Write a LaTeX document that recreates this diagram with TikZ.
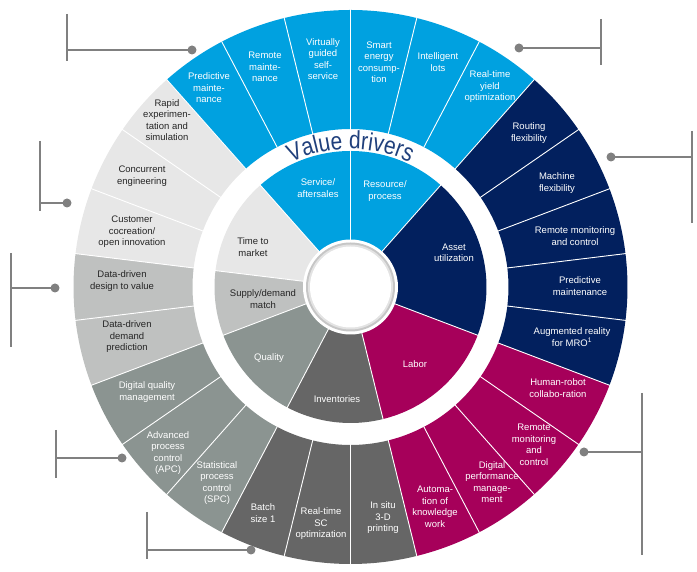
\documentclass[tikz,border=0pt]{standalone}
\usepackage{fontspec}
\setmainfont{Liberation Sans}
\newfontfamily\vdfont[FakeStretch=0.84]{Liberation Sans}
\newcommand\vdsize{\vdfont\fontsize{25}{27}\selectfont}
\usetikzlibrary{decorations.text}
\definecolor{vblue}{RGB}{0,161,224}
\definecolor{vnavy}{RGB}{2,32,94}
\definecolor{vmag}{RGB}{166,0,90}
\definecolor{vdgray}{RGB}{102,102,102}
\definecolor{vggreen}{RGB}{139,148,145}
\definecolor{vlgray}{RGB}{191,193,192}
\definecolor{vvlgray}{RGB}{231,231,231}
\definecolor{vdtext}{RGB}{32,64,124}
\definecolor{leadgray}{RGB}{128,128,128}
\begin{document}
\begin{tikzpicture}[x=1pt,y=1pt,
  lbl/.style={align=center, font=\fontsize{9.5}{11.5}\selectfont, text=white, inner sep=0pt},
  dlbl/.style={lbl, text=black!85},
  leader/.style={draw=leadgray, line width=1.5pt},
  dotnode/.style={circle, fill=leadgray, minimum size=9pt, inner sep=0pt},
  sep/.style={draw=white, line width=0.9pt}]
\useasboundingbox (0,0) rectangle (697,572);
\begin{scope}[shift={(350.5,285)}]
  % outer ring
  \foreach \c [count=\i from 0] in {vblue,vblue,vblue,vnavy,vnavy,vnavy,vnavy,vnavy,vmag,vmag,vmag,vmag,vdgray,vdgray,vdgray,vggreen,vggreen,vggreen,vlgray,vlgray,vvlgray,vvlgray,vvlgray,vblue,vblue,vblue}{
    \pgfmathsetmacro\aa{90-\i*360/26}
    \pgfmathsetmacro\ab{90-(\i+1)*360/26}
    \fill[\c] (\aa:277) arc[start angle=\aa, end angle=\ab, radius=277] -- (\ab:158) arc[start angle=\ab, end angle=\aa, radius=158] -- cycle;
  }
  \foreach \i in {0,...,25}{
    \pgfmathsetmacro\aa{90-\i*360/26}
    \draw[sep] (\aa:157.5) -- (\aa:277.5);
  }
  % inner pie
  \foreach \s/\e/\c in {-3/0/vblue,0/3/vblue,3/6/vvlgray,6/8/vlgray,8/11/vggreen,11/14/vdgray,14/18/vmag,18/23/vnavy}{
    \pgfmathsetmacro\aa{90+\s*360/26}
    \pgfmathsetmacro\ab{90+\e*360/26}
    \fill[\c] (0,0) -- (\aa:136) arc[start angle=\aa, end angle=\ab, radius=136] -- cycle;
  }
  \foreach \s in {-3,0,3,6,8,11,14,18}{
    \pgfmathsetmacro\aa{90+\s*360/26}
    \draw[sep] (0,0) -- (\aa:136.5);
  }
  % centre hole
  \fill[white] (0,0) circle (47.5);
  \fill[gray!45] (0,0) circle (44.5);
  \fill[gray!22] (0,0) circle (42.5);
  \fill[white] (0,0) circle (40.5);
  % title
  \path[decorate, decoration={text along path, text={|\vdsize|Value drivers}, text align=center, text color=vdtext}]
    (122:138) arc[start angle=122, end angle=58, radius=138];
\end{scope}

% outer labels
\node[lbl] (o0) at (379,510) {Smart\\energy\\consump-\\tion};
\node[lbl] (o1) at (438,510) {Intelligent\\lots};
\node[lbl] (o2) at (490,485) {Real-time\\yield\\optimization};
\node[lbl] (o3) at (529,439) {Routing\\flexibility};
\node[lbl] (o4) at (557,389) {Machine\\flexibility};
\node[lbl] (o5) at (575,336) {Remote monitoring\\and control};
\node[lbl] (o6) at (580,286) {Predictive\\maintenance};
\node[lbl] (o7) at (572,235) {Augmented reality\\for MRO\textsuperscript{1}};
\node[lbl] (o8) at (558,184) {Human-robot\\collabo-ration};
\node[lbl] (o9) at (534,127) {Remote\\monitoring\\and\\control};
\node[lbl] (o10) at (492,90) {Digital\\performance\\manage-\\ment};
\node[lbl] (o11) at (435,65) {Automa-\\tion of\\knowledge\\work};
\node[lbl] (o12) at (383,54) {In situ\\3-D\\printing};
\node[lbl] (o13) at (321,48) {Real-time\\SC\\optimization};
\node[lbl] (o14) at (263,59) {Batch\\size 1};
\node[lbl] (o15) at (217,89) {Statistical\\process\\control\\(SPC)};
\node[lbl] (o16) at (168,119) {Advanced\\process\\control\\(APC)};
\node[lbl] (o17) at (147,180) {Digital quality\\management};
\node[dlbl] (o18) at (127,235) {Data-driven\\demand\\prediction};
\node[dlbl] (o19) at (122,291) {Data-driven\\design to value};
\node[dlbl] (o20) at (132,340) {Customer\\cocreation/\\open innovation};
\node[dlbl] (o21) at (142,396) {Concurrent\\engineering};
\node[dlbl] (o22) at (167,452) {Rapid\\experimen-\\tation and\\simulation};
\node[lbl] (o23) at (209,484) {Predictive\\mainte-\\nance};
\node[lbl] (o24) at (265,505) {Remote\\mainte-\\nance};
\node[lbl] (o25) at (323,513) {Virtually\\guided\\self-\\service};

% inner labels
\node[lbl] (i1) at (318,384) {Service/\\aftersales};
\node[lbl] (i2) at (385,381) {Resource/\\process};
\node[lbl] (i3) at (454,319) {Asset\\utilization};
\node[lbl] (i4) at (415,208) {Labor};
\node[lbl] (i5) at (337,173) {Inventories};
\node[lbl] (i6) at (269,214) {Quality};
\node[dlbl] (i7) at (263,273) {Supply/demand\\match};
\node[dlbl] (i8) at (253,325) {Time to\\market};

% leaders
\foreach \n/\dx/\dy/\hx/\ta/\tb in {1/192/522/67/558/511, 2/67/369/40/431/361, 3/55/284/11/319/225, 4/122/114/56/142/94, 5/251/22/147/60/13, 6/519/524/601/553/507, 7/611/415/692/441/349, 8/584/120/642/179/17}{
  \node[dotnode] (d\n) at (\dx,\dy) {};
  \coordinate (h\n) at (\hx,\dy);
  \coordinate (t\n) at (\hx,\ta);
  \coordinate (b\n) at (\hx,\tb);
  \draw[leader] (d\n.center) -- (h\n);
  \draw[leader] (t\n) -- (b\n);
}
\end{tikzpicture}
\end{document}
